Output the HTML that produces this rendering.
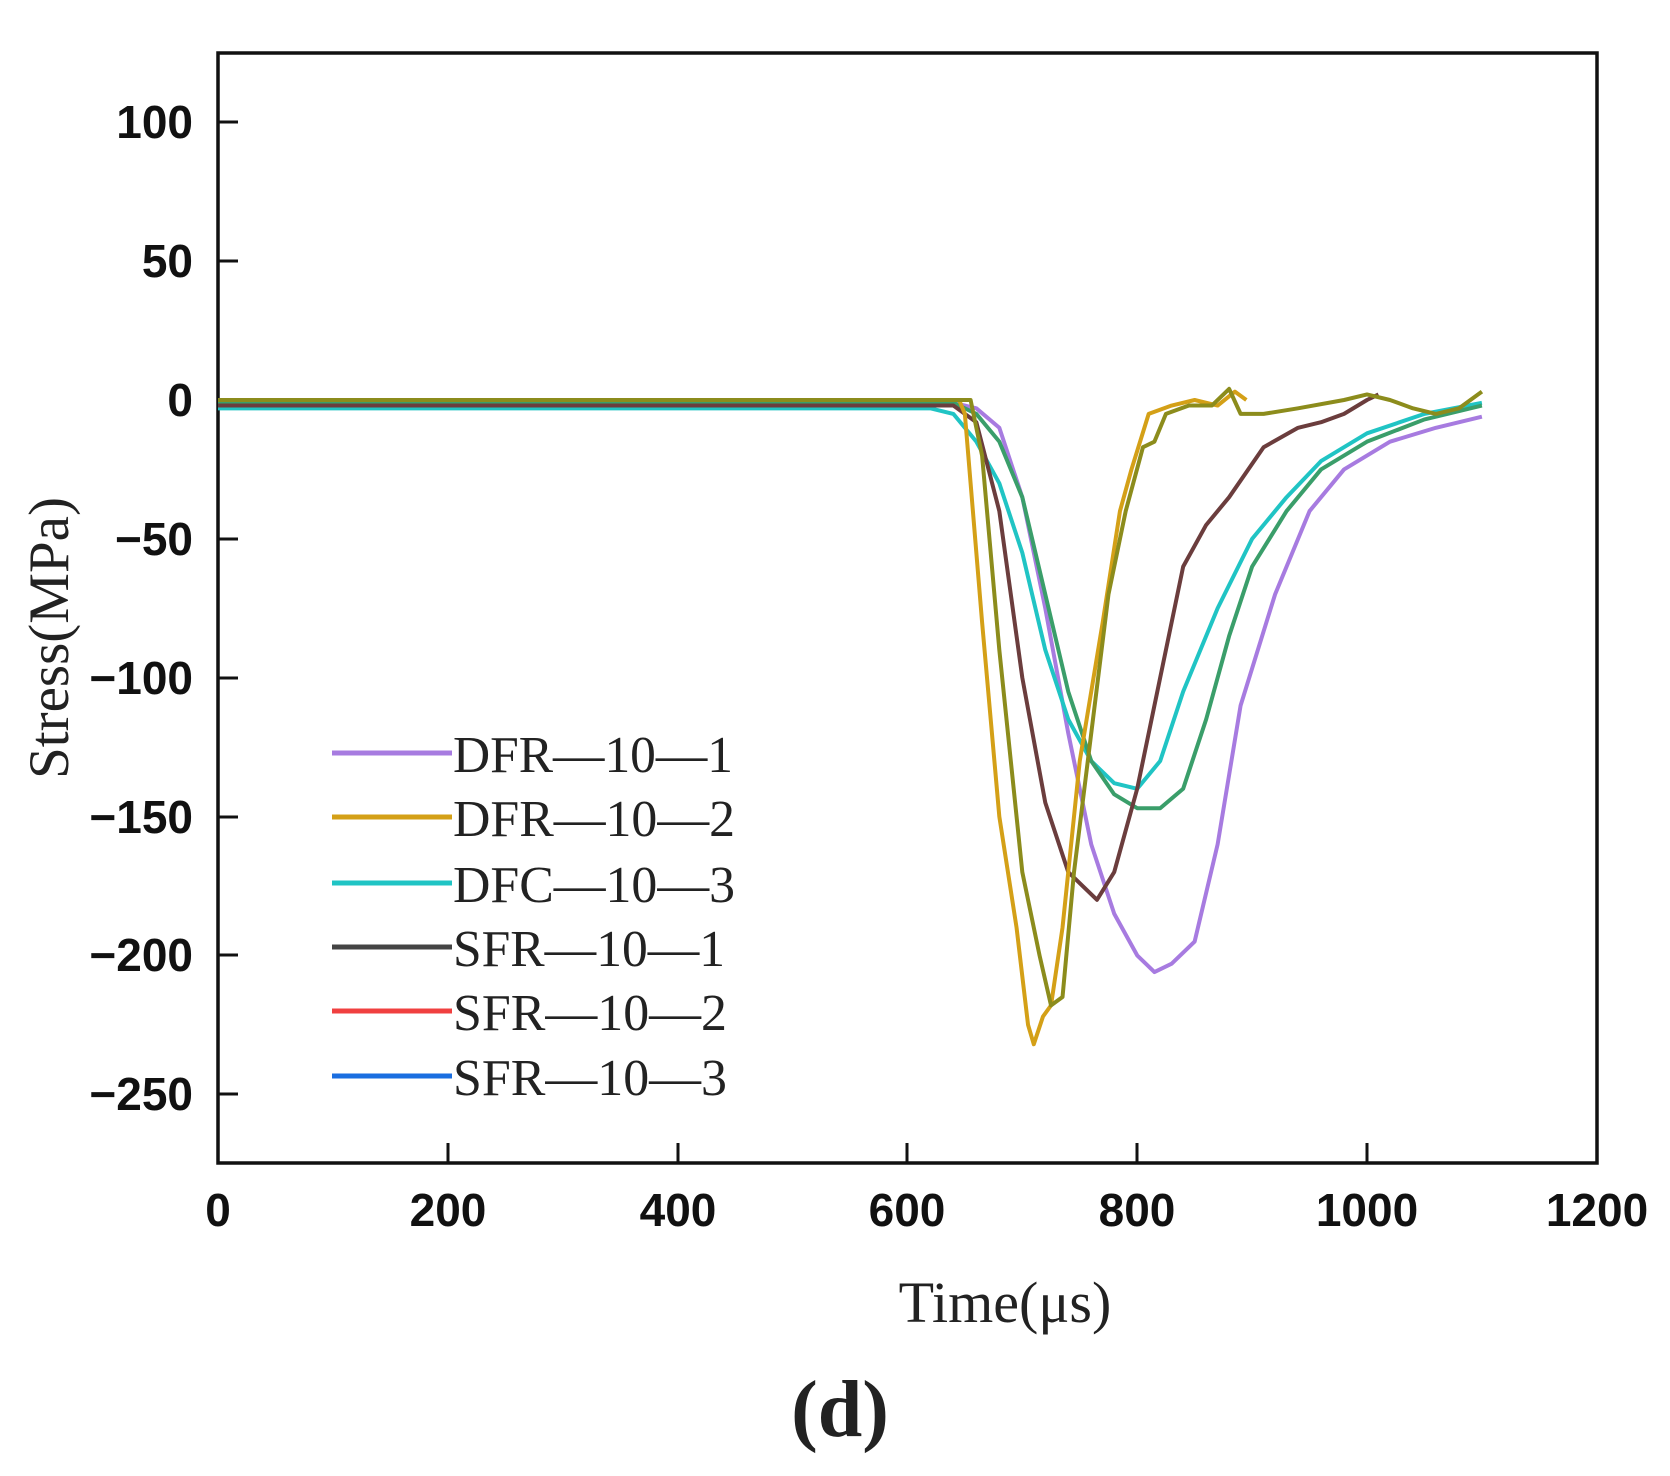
<!DOCTYPE html>
<html><head><meta charset="utf-8"><style>
html,body{margin:0;padding:0;background:#fff;}
svg{display:block;}
.t{font-family:"Liberation Sans",sans-serif;font-weight:bold;font-size:46px;fill:#111;}
.s{font-family:"Liberation Serif",serif;fill:#222;}
</style></head><body>
<svg width="1670" height="1476" viewBox="0 0 1670 1476" xmlns="http://www.w3.org/2000/svg">
<rect x="218" y="53" width="1379" height="1110" fill="none" stroke="#111" stroke-width="3.5"/>
<g stroke="#111" stroke-width="3">
<line x1="218" y1="122" x2="238" y2="122"/><line x1="218" y1="261" x2="238" y2="261"/>
<line x1="218" y1="400" x2="238" y2="400"/><line x1="218" y1="539" x2="238" y2="539"/>
<line x1="218" y1="678" x2="238" y2="678"/><line x1="218" y1="817" x2="238" y2="817"/>
<line x1="218" y1="955" x2="238" y2="955"/><line x1="218" y1="1094" x2="238" y2="1094"/>
<line x1="448" y1="1163" x2="448" y2="1143"/><line x1="678" y1="1163" x2="678" y2="1143"/>
<line x1="907" y1="1163" x2="907" y2="1143"/><line x1="1137" y1="1163" x2="1137" y2="1143"/>
<line x1="1367" y1="1163" x2="1367" y2="1143"/>
</g>
<g class="t" text-anchor="end">
<text x="193" y="138">100</text><text x="193" y="277">50</text><text x="193" y="416">0</text>
<text x="193" y="555">−50</text><text x="193" y="694">−100</text><text x="193" y="833">−150</text>
<text x="193" y="971">−200</text><text x="193" y="1110">−250</text>
</g>
<g class="t" text-anchor="middle">
<text x="218" y="1226">0</text><text x="448" y="1226">200</text><text x="678" y="1226">400</text>
<text x="907" y="1226">600</text><text x="1137" y="1226">800</text><text x="1367" y="1226">1000</text>
<text x="1597" y="1226">1200</text>
</g>
<text class="s" x="1005" y="1322" font-size="58" text-anchor="middle">Time(μs)</text>
<text class="s" x="840" y="1436" font-size="80" font-weight="bold" text-anchor="middle" fill="#111">(d)</text>
<text class="s" x="0" y="0" font-size="57" text-anchor="middle" transform="translate(68,638) rotate(-90)">Stress(MPa)</text>

<g transform="translate(218,400) scale(1.149,-2.777)" fill="none" stroke-linejoin="round">
<path vector-effect="non-scaling-stroke" stroke="#a77be0" stroke-width="4" d="M0,-1 L640,-1 660,-3 680,-10 700,-35 720,-75 740,-120 760,-160 780,-185 800,-200 815,-206 830,-203 850,-195 870,-160 890,-110 920,-70 950,-40 980,-25 1020,-15 1060,-10 1100,-6"/>
<path vector-effect="non-scaling-stroke" stroke="#20c4c4" stroke-width="4" d="M0,-3 L620,-3 640,-5 660,-15 680,-30 700,-55 720,-90 740,-115 760,-130 780,-138 800,-140 820,-130 840,-105 870,-75 900,-50 930,-35 960,-22 1000,-12 1050,-5 1100,-1"/>
<path vector-effect="non-scaling-stroke" stroke="#3a9e6a" stroke-width="4" d="M0,-1 L640,-1 660,-5 680,-15 700,-35 720,-70 740,-105 760,-130 780,-142 800,-147 820,-147 840,-140 860,-115 880,-85 900,-60 930,-40 960,-25 1000,-15 1050,-7 1100,-2"/>
<path vector-effect="non-scaling-stroke" stroke="#6b3d3d" stroke-width="4" d="M0,-2 L640,-2 660,-8 680,-40 700,-100 720,-145 740,-170 765,-180 780,-170 800,-140 820,-100 840,-60 860,-45 880,-35 910,-17 940,-10 960,-8 980,-5 1000,0 1010,2"/>
<path vector-effect="non-scaling-stroke" stroke="#d4a017" stroke-width="4" d="M0,0 L645,0 650,-5 655,-30 665,-80 680,-150 695,-190 705,-225 710,-232 718,-222 725,-218 735,-190 750,-130 770,-80 785,-40 795,-25 810,-5 830,-2 850,0 870,-2 885,3 895,0"/>
<path vector-effect="non-scaling-stroke" stroke="#8c8c1c" stroke-width="4" d="M0,0 L655,0 665,-20 680,-90 700,-170 715,-200 725,-218 735,-215 745,-170 760,-120 775,-70 790,-40 805,-17 815,-15 825,-5 845,-2 865,-2 880,4 890,-5 910,-5 940,-3 980,0 1000,2 1020,0 1040,-3 1060,-5 1080,-3 1100,3"/>
</g>

<g stroke-width="5">
<line x1="332" y1="753" x2="452" y2="753" stroke="#a77be0"/>
<line x1="332" y1="817" x2="452" y2="817" stroke="#d4a017"/>
<line x1="332" y1="883" x2="452" y2="883" stroke="#20c4c4"/>
<line x1="332" y1="947" x2="452" y2="947" stroke="#444"/>
<line x1="332" y1="1011" x2="452" y2="1011" stroke="#f04040"/>
<line x1="332" y1="1076" x2="452" y2="1076" stroke="#1a6ee0"/>
</g>
<g class="s" font-size="52">
<text x="453" y="772" textLength="280" lengthAdjust="spacingAndGlyphs">DFR—10—1</text>
<text x="453" y="836" textLength="282" lengthAdjust="spacingAndGlyphs">DFR—10—2</text>
<text x="453" y="902" textLength="282" lengthAdjust="spacingAndGlyphs">DFC—10—3</text>
<text x="453" y="966" textLength="272" lengthAdjust="spacingAndGlyphs">SFR—10—1</text>
<text x="453" y="1030" textLength="274" lengthAdjust="spacingAndGlyphs">SFR—10—2</text>
<text x="453" y="1095" textLength="274" lengthAdjust="spacingAndGlyphs">SFR—10—3</text>
</g>
</svg>
</body></html>
